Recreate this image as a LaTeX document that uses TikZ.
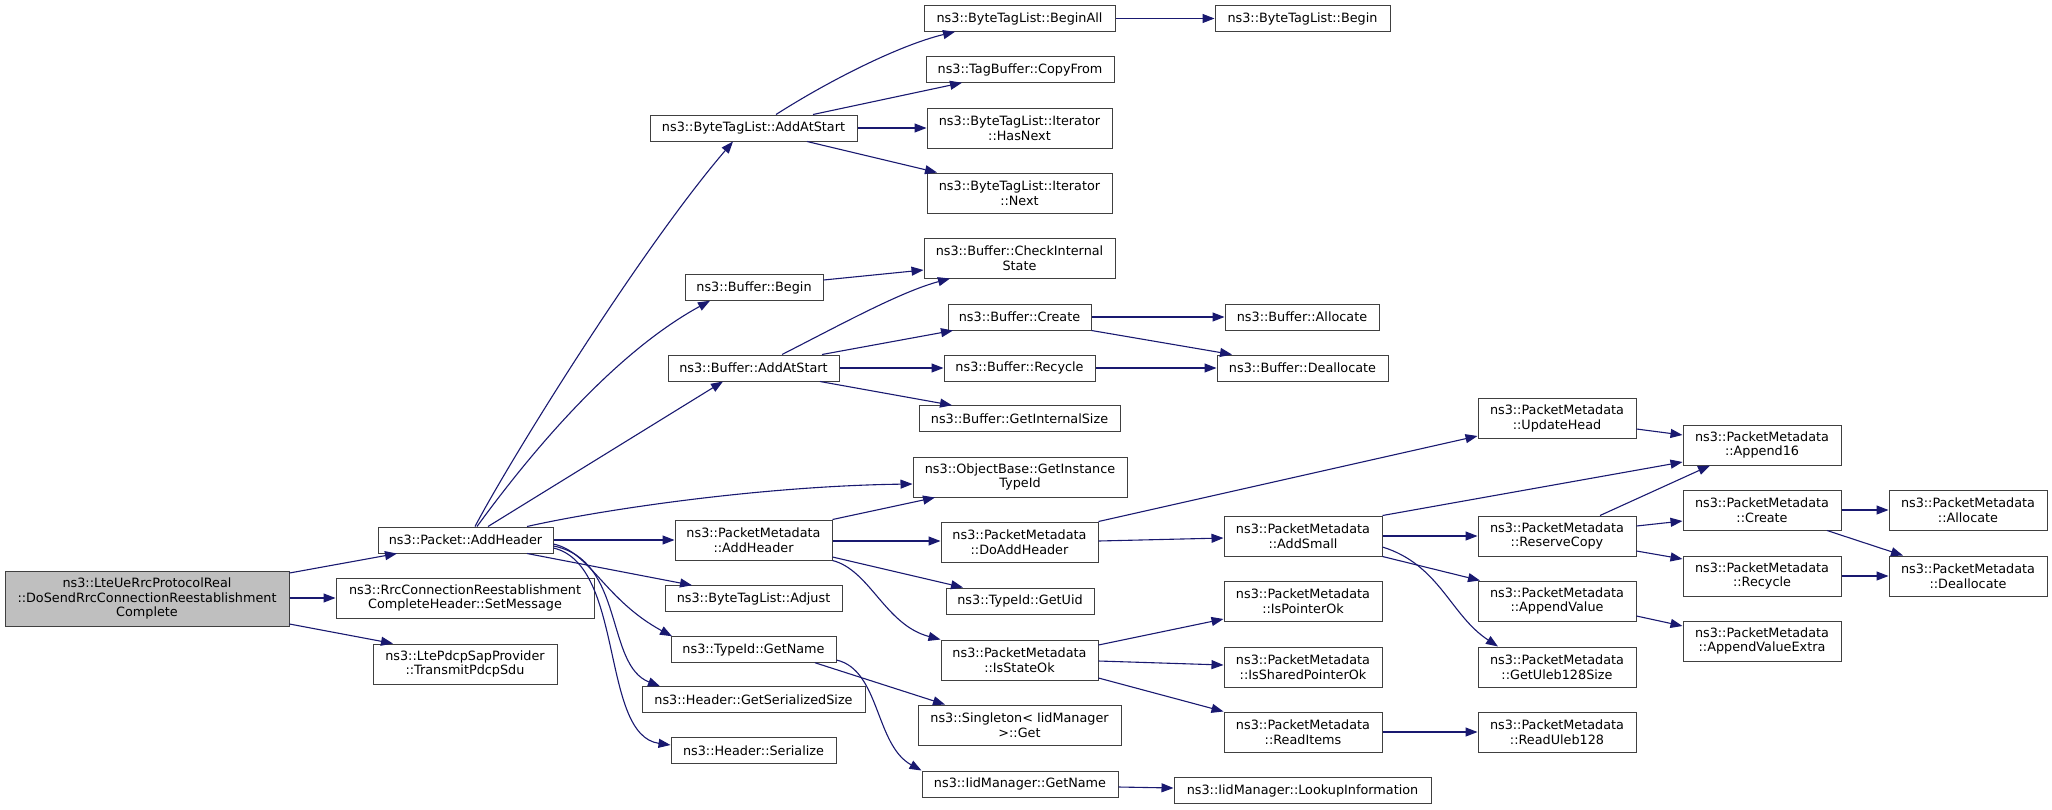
\documentclass[tikz,border=0pt]{standalone}
\usepackage{fontspec}
\setmainfont{DejaVu Sans}
\usetikzlibrary{arrows.meta}
\definecolor{mblue}{HTML}{191970}
\definecolor{bcol}{HTML}{404040}
\definecolor{rootfill}{HTML}{BFBFBF}
\begin{document}
\begin{tikzpicture}[x=1pt,y=-1pt,
  box/.style={draw=bcol, line width=1pt, fill=white, inner sep=0pt, align=center,
    font=\fontsize{12.8}{14.7}\selectfont},
  cl/.style={draw=mblue, line width=1.1pt, -{Triangle[length=12pt,width=9pt]}}]
\useasboundingbox (0,0) rectangle (2052,809);
% column 1
\node[box, fill=rootfill, minimum width=284, minimum height=55] (root) at (147,598.5)
  {ns3::LteUeRrcProtocolReal\\::DoSendRrcConnectionReestablishment\\Complete};
% column 2
\node[box, minimum width=175, minimum height=26] (ah) at (465.5,540) {ns3::Packet::AddHeader};
\node[box, minimum width=258, minimum height=40] (setmsg) at (465,598) {ns3::RrcConnectionReestablishment\\CompleteHeader::SetMessage};
\node[box, minimum width=184, minimum height=40] (transmit) at (465,664) {ns3::LtePdcpSapProvider\\::TransmitPdcpSdu};
% column 3
\node[box, minimum width=207, minimum height=26] (btlAdd) at (753.5,128) {ns3::ByteTagList::AddAtStart};
\node[box, minimum width=138, minimum height=25.5] (bufBegin) at (754,287.5) {ns3::Buffer::Begin};
\node[box, minimum width=171, minimum height=26] (bufAdd) at (753.5,368) {ns3::Buffer::AddAtStart};
\node[box, minimum width=157, minimum height=40] (pmAddHeader) at (753.5,540) {ns3::PacketMetadata\\::AddHeader};
\node[box, minimum width=177, minimum height=25.5] (btlAdjust) at (753.5,598.5) {ns3::ByteTagList::Adjust};
\node[box, minimum width=165, minimum height=25.5] (typeGetName) at (753.5,649.5) {ns3::TypeId::GetName};
\node[box, minimum width=223, minimum height=25.5] (hdrSize) at (753.5,699.5) {ns3::Header::GetSerializedSize};
\node[box, minimum width=165, minimum height=25.5] (hdrSer) at (753.5,750.5) {ns3::Header::Serialize};
% column 4
\node[box, minimum width=191, minimum height=25.5] (btlBeginAll) at (1019.5,18.5) {ns3::ByteTagList::BeginAll};
\node[box, minimum width=188, minimum height=25.5] (copyFrom) at (1020,69.5) {ns3::TagBuffer::CopyFrom};
\node[box, minimum width=185, minimum height=40] (hasNext) at (1019.5,128) {ns3::ByteTagList::Iterator\\::HasNext};
\node[box, minimum width=185, minimum height=40] (next) at (1019.5,193) {ns3::ByteTagList::Iterator\\::Next};
\node[box, minimum width=191, minimum height=40] (checkInt) at (1019.5,258) {ns3::Buffer::CheckInternal\\State};
\node[box, minimum width=143, minimum height=26] (bufCreate) at (1019.5,317) {ns3::Buffer::Create};
\node[box, minimum width=151, minimum height=26] (bufRecycle) at (1019.5,368) {ns3::Buffer::Recycle};
\node[box, minimum width=201, minimum height=25.5] (getIntSize) at (1019.5,418.5) {ns3::Buffer::GetInternalSize};
\node[box, minimum width=214, minimum height=40] (getInstTid) at (1020,477) {ns3::ObjectBase::GetInstance\\TypeId};
\node[box, minimum width=157, minimum height=40] (doAddHeader) at (1019.5,542) {ns3::PacketMetadata\\::DoAddHeader};
\node[box, minimum width=148, minimum height=26] (getUid) at (1020,601) {ns3::TypeId::GetUid};
\node[box, minimum width=157, minimum height=40] (isStateOk) at (1019.5,660) {ns3::PacketMetadata\\::IsStateOk};
\node[box, minimum width=203, minimum height=40] (singletonGet) at (1019.5,725) {ns3::Singleton< IidManager\\ >::Get};
\node[box, minimum width=196, minimum height=26] (iidGetName) at (1020,784) {ns3::IidManager::GetName};
% column 5
\node[box, minimum width=175, minimum height=25.5] (btlBegin) at (1302.5,18.5) {ns3::ByteTagList::Begin};
\node[box, minimum width=154, minimum height=26] (bufAlloc) at (1302,317) {ns3::Buffer::Allocate};
\node[box, minimum width=171, minimum height=26] (bufDealloc) at (1302.5,368) {ns3::Buffer::Deallocate};
\node[box, minimum width=158, minimum height=40] (addSmall) at (1303,536) {ns3::PacketMetadata\\::AddSmall};
\node[box, minimum width=158, minimum height=40] (isPtrOk) at (1303,601) {ns3::PacketMetadata\\::IsPointerOk};
\node[box, minimum width=158, minimum height=40] (isShPtrOk) at (1303,667) {ns3::PacketMetadata\\::IsSharedPointerOk};
\node[box, minimum width=158, minimum height=40] (readItems) at (1303,732) {ns3::PacketMetadata\\::ReadItems};
\node[box, minimum width=257, minimum height=25.5] (lookup) at (1302.5,790.5) {ns3::IidManager::LookupInformation};
% column 6
\node[box, minimum width=158, minimum height=40] (updateHead) at (1557,418.5) {ns3::PacketMetadata\\::UpdateHead};
\node[box, minimum width=158, minimum height=40] (reserveCopy) at (1557,536) {ns3::PacketMetadata\\::ReserveCopy};
\node[box, minimum width=158, minimum height=40] (appendValue) at (1557,601) {ns3::PacketMetadata\\::AppendValue};
\node[box, minimum width=158, minimum height=40] (getUleb) at (1557,667) {ns3::PacketMetadata\\::GetUleb128Size};
\node[box, minimum width=158, minimum height=40] (readUleb) at (1557,732) {ns3::PacketMetadata\\::ReadUleb128};
% column 7
\node[box, minimum width=158, minimum height=40] (append16) at (1762,445) {ns3::PacketMetadata\\::Append16};
\node[box, minimum width=158, minimum height=40] (pmCreate) at (1762,510) {ns3::PacketMetadata\\::Create};
\node[box, minimum width=158, minimum height=40] (pmRecycle) at (1762,576) {ns3::PacketMetadata\\::Recycle};
\node[box, minimum width=158, minimum height=40] (appendValExtra) at (1762,641) {ns3::PacketMetadata\\::AppendValueExtra};
% column 8
\node[box, minimum width=158, minimum height=40] (pmAlloc) at (1968,510) {ns3::PacketMetadata\\::Allocate};
\node[box, minimum width=158, minimum height=40] (pmDealloc) at (1968,576) {ns3::PacketMetadata\\::Deallocate};

% edges
\draw[cl] (root.east |- 0,573) -- (397,0 |- ah.south);
\draw[cl] (root.east |- 0,598) -- (setmsg.west |- 0,598);
\draw[cl] (root.east |- 0,624) -- (393,0 |- transmit.north);

\draw[cl] (475,0 |- ah.north) .. controls (510,460) and (640,250) .. (733,0 |- btlAdd.south);
\draw[cl] (477,0 |- ah.north) .. controls (540,440) and (620,350) .. (710,0 |- bufBegin.south);
\draw[cl] (488,0 |- ah.north) -- (723,0 |- bufAdd.south);
\draw[cl] (527,0 |- ah.north) .. controls (600,510) and (760,486) .. (getInstTid.west |- 0,484);
\draw[cl] (ah.east |- 0,540) -- (pmAddHeader.west |- 0,540);
\draw[cl] (527,0 |- ah.south) -- (692,0 |- btlAdjust.north);
\draw[cl] (ah.east |- 0,544) .. controls (590,552) and (605,600) .. (672,0 |- typeGetName.north);
\draw[cl] (ah.east |- 0,546) .. controls (625,560) and (605,665) .. (660,0 |- hdrSize.north);
\draw[cl] (ah.east |- 0,548) .. controls (625,565) and (600,735) .. (hdrSer.west |- 0,745);

\draw[cl] (776,0 |- btlAdd.north) .. controls (830,80) and (900,45) .. (955,0 |- btlBeginAll.south);
\draw[cl] (813,0 |- btlAdd.north) -- (962,0 |- copyFrom.south);
\draw[cl] (btlAdd.east) -- (hasNext.west);
\draw[cl] (807,0 |- btlAdd.south) -- (937,0 |- next.north);
\draw[cl] (btlBeginAll.east) -- (btlBegin.west);

\draw[cl] (bufBegin.east |- 0,280) -- (checkInt.west |- 0,270);
\draw[cl] (782,0 |- bufAdd.north) .. controls (840,325) and (900,292) .. (950,0 |- checkInt.south);
\draw[cl] (822,0 |- bufAdd.north) -- (953,0 |- bufCreate.south);
\draw[cl] (bufAdd.east) -- (bufRecycle.west);
\draw[cl] (820,0 |- bufAdd.south) -- (952,0 |- getIntSize.north);
\draw[cl] (bufCreate.east) -- (bufAlloc.west);
\draw[cl] (bufCreate.south east) -- (1232,0 |- bufDealloc.north);
\draw[cl] (bufRecycle.east) -- (bufDealloc.west);

\draw[cl] (pmAddHeader.north east) -- (935,0 |- getInstTid.south);
\draw[cl] (pmAddHeader.east |- 0,541) -- (doAddHeader.west |- 0,541);
\draw[cl] (pmAddHeader.east |- 0,557) -- (963,0 |- getUid.north);
\draw[cl] (pmAddHeader.south east) .. controls (870,570) and (885,625) .. (isStateOk.north west);

\draw[cl] (doAddHeader.north east) -- (updateHead.west |- 0,436);
\draw[cl] (doAddHeader.east |- 0,541) -- (addSmall.west |- 0,538);
\draw[cl] (isStateOk.east |- 0,645) -- (isPtrOk.west |- 0,619);
\draw[cl] (isStateOk.east |- 0,661) -- (isShPtrOk.west |- 0,665);
\draw[cl] (isStateOk.east |- 0,678) -- (readItems.north west);
\draw[cl] (815,0 |- typeGetName.south) -- (945,0 |- singletonGet.north);
\draw[cl] (typeGetName.east |- 0,660) .. controls (880,670) and (875,745) .. (iidGetName.north west);
\draw[cl] (iidGetName.east |- 0,787) -- (lookup.west |- 0,788);

\draw[cl] (addSmall.north east) -- (append16.west |- 0,462);
\draw[cl] (addSmall.east) -- (reserveCopy.west);
\draw[cl] (addSmall.south east) -- (1480,0 |- appendValue.north);
\draw[cl] (addSmall.east |- 0,547) .. controls (1440,565) and (1450,615) .. (1498,0 |- getUleb.north);
\draw[cl] (readItems.east) -- (readUleb.west);

\draw[cl] (updateHead.east |- 0,429) -- (append16.west |- 0,435);
\draw[cl] (1600,0 |- reserveCopy.north) -- (1710,0 |- append16.south);
\draw[cl] (reserveCopy.east |- 0,526) -- (pmCreate.west |- 0,521);
\draw[cl] (reserveCopy.east |- 0,551) -- (pmRecycle.west |- 0,559);
\draw[cl] (pmCreate.east) -- (pmAlloc.west);
\draw[cl] (1827,0 |- pmCreate.south) -- (1903,0 |- pmDealloc.north);
\draw[cl] (pmRecycle.east) -- (pmDealloc.west);
\draw[cl] (appendValue.east |- 0,616) -- (appendValExtra.west |- 0,626);
\end{tikzpicture}
\end{document}
